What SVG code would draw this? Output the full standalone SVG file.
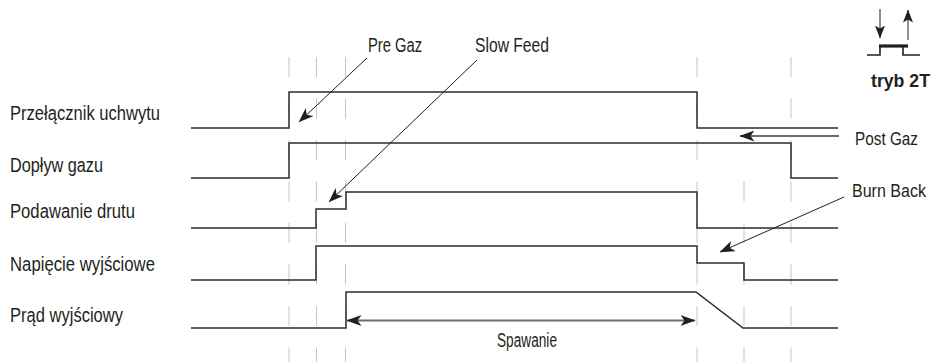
<svg xmlns="http://www.w3.org/2000/svg" width="935" height="363" viewBox="0 0 935 363">
<style>
text{font-family:"Liberation Sans",Arial,sans-serif;font-size:20px;fill:#231f20}
text.edge{font-size:17.5px}
.grid{stroke:#c4c4c4;stroke-width:1;stroke-dasharray:20 21.5;fill:none}
.sig{stroke:#2b2b2b;stroke-width:1.5;fill:none}
.ar{stroke:#231f20;stroke-width:1;fill:none}
.arg{stroke:#6d6d6d;stroke-width:1.8;fill:none}
</style>
<defs>
<marker id="ah" viewBox="0 0 15 11" refX="14.5" refY="5.5" markerWidth="15" markerHeight="11" markerUnits="userSpaceOnUse" orient="auto-start-reverse">
<path d="M0,0 L15,5.5 L0,11 L4,5.5 Z" fill="#231f20"/>
</marker>
<marker id="ahs" viewBox="0 0 13 10" refX="12.5" refY="5" markerWidth="13" markerHeight="10" markerUnits="userSpaceOnUse" orient="auto">
<path d="M0,0 L13,5 L0,10 L3,5 Z" fill="#231f20"/>
</marker>
</defs>
<g id="gridlines">
<line class="grid" x1="289" y1="57" x2="289" y2="362"/>
<line class="grid" x1="316.5" y1="57" x2="316.5" y2="362"/>
<line class="grid" x1="345.5" y1="57" x2="345.5" y2="362"/>
<line class="grid" x1="697" y1="57" x2="697" y2="362"/>
<line class="grid" x1="744" y1="181.5" x2="744" y2="362"/>
<line class="grid" x1="791" y1="57" x2="791" y2="362"/>
</g>
<g id="labels">
<text x="10" y="120" textLength="150" lengthAdjust="spacingAndGlyphs">Przełącznik uchwytu</text>
<text x="10" y="172" textLength="93" lengthAdjust="spacingAndGlyphs">Dopływ gazu</text>
<text x="10" y="218" textLength="125" lengthAdjust="spacingAndGlyphs">Podawanie drutu</text>
<text x="10" y="271" textLength="145" lengthAdjust="spacingAndGlyphs">Napięcie wyjściowe</text>
<text x="10" y="322" textLength="113" lengthAdjust="spacingAndGlyphs">Prąd wyjściowy</text>
</g>
<g id="signal-torch"><path class="sig" d="M191,128 H289 V92 H697 V128 H838"/></g>
<g id="signal-gas"><path class="sig" d="M191,178 H289 V143 H791 V178 H838"/></g>
<g id="signal-wire"><path class="sig" d="M191,228 H316 V209 H346 V192 H697 V228 H838"/></g>
<g id="signal-voltage"><path class="sig" d="M191,280 H316 V246 H697 V263 H744 V280 H838"/></g>
<g id="signal-current"><path class="sig" d="M191,328 H346 V292 H696 L743,328 H838"/></g>
<g id="annotations">
<text x="368" y="52" textLength="54" lengthAdjust="spacingAndGlyphs">Pre Gaz</text>
<text x="475" y="52" textLength="74" lengthAdjust="spacingAndGlyphs">Slow Feed</text>
<text class="edge" x="855" y="145" textLength="63" lengthAdjust="spacingAndGlyphs">Post Gaz</text>
<text class="edge" x="852" y="197" textLength="74" lengthAdjust="spacingAndGlyphs">Burn Back</text>
<text x="497" y="347" textLength="60" lengthAdjust="spacingAndGlyphs">Spawanie</text>
</g>
<g id="connectors">
<line class="ar" x1="367" y1="58" x2="299" y2="122" marker-end="url(#ah)"/>
<line class="ar" x1="477" y1="60" x2="329" y2="202" marker-end="url(#ah)"/>
<line class="arg" x1="839" y1="136" x2="740" y2="136" marker-end="url(#ah)"/>
<line class="ar" x1="844" y1="197" x2="720" y2="252" marker-end="url(#ah)"/>
<line class="arg" x1="347" y1="320.5" x2="695" y2="320.5" marker-start="url(#ah)" marker-end="url(#ah)"/>
</g>
<g id="mode-icon">
<line class="ar" x1="880" y1="9" x2="880" y2="38" stroke-width="1.6" marker-end="url(#ahs)"/>
<line class="ar" x1="908" y1="40" x2="908" y2="10" stroke-width="1.6" marker-end="url(#ahs)"/>
<line x1="879" y1="46" x2="908" y2="46" stroke="#231f20" stroke-width="3.2"/>
<path d="M867,55 H880 V46 M903,46 V55 H920" stroke="#231f20" stroke-width="1.6" fill="none"/>
<text class="edge" x="871" y="87" font-weight="bold" textLength="59" lengthAdjust="spacingAndGlyphs">tryb 2T</text>
</g>
</svg>
